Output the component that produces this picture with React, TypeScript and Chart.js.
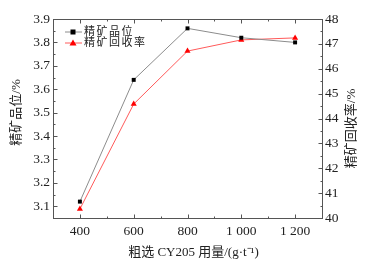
import React, { useEffect, useRef } from "react";
import { Chart, registerables } from "chart.js";

Chart.register(...registerables);

const dosages = [400, 600, 800, 1000, 1200];
const gradeValues = [3.12, 3.64, 3.86, 3.82, 3.8];
const recoveryValues = [40.36, 44.58, 46.71, 47.16, 47.24];
const xTickValues = [400, 600, 800, 1000, 1200];
const xMinorValues = [300, 500, 700, 900, 1100, 1300];
const gradeTickValues = [3.1, 3.2, 3.3, 3.4, 3.5, 3.6, 3.7, 3.8, 3.9];
const gradeMinorValues = [3.05, 3.15, 3.25, 3.35, 3.45, 3.55, 3.65, 3.75, 3.85];
const recoveryTickValues = [40, 41, 42, 43, 44, 45, 46, 47, 48];
const recoveryMinorValues = [40.5, 41.5, 42.5, 43.5, 44.5, 45.5, 46.5, 47.5];
const seriesLabels = ["精矿品位", "精矿回收率"];
const xTitle = "粗选 CY205 用量/(g·t⁻¹)";
const yTitle = "精矿品位/%";
const y1Title = "精矿回收率/%";

const FONT = '"Liberation Serif", "Times New Roman", "Noto Sans CJK SC", serif';
const AXIS = "#555";
const TEXT = "#222";

const fmtThousands = (v: number) => {
  const s = String(v);
  return s.length > 3 ? s.slice(0, s.length - 3) + " " + s.slice(-3) : s;
};

const framePlugin = {
  id: "frame",
  afterDraw(chart: any) {
    const { ctx, chartArea } = chart;
    const { left, right, top, bottom } = chartArea;
    const sx = chart.scales.x;
    const sy = chart.scales.y;
    const sy1 = chart.scales.y1;
    ctx.save();
    ctx.strokeStyle = AXIS;
    ctx.lineWidth = 1;
    ctx.strokeRect(Math.round(left) + 0.5, Math.round(top) + 0.5, Math.round(right - left), Math.round(bottom - top));
    const line = (x1: number, y1: number, x2: number, y2: number) => {
      ctx.beginPath();
      ctx.moveTo(x1, y1);
      ctx.lineTo(x2, y2);
      ctx.stroke();
    };
    const L = Math.round(left) + 0.5;
    const R = Math.round(right) + 0.5;
    const T = Math.round(top) + 0.5;
    const B = Math.round(bottom) + 0.5;
    xTickValues.forEach((v) => {
      const px = Math.round(sx.getPixelForValue(v)) + 0.5;
      line(px, B, px, B - 4);
      line(px, T, px, T + 4);
    });
    xMinorValues.forEach((v) => {
      const px = Math.round(sx.getPixelForValue(v)) + 0.5;
      line(px, B, px, B - 2);
      line(px, T, px, T + 2);
    });
    gradeTickValues.forEach((v) => {
      const py = Math.round(sy.getPixelForValue(v)) + 0.5;
      line(L, py, L + 4, py);
    });
    gradeMinorValues.forEach((v) => {
      const py = Math.round(sy.getPixelForValue(v)) + 0.5;
      line(L, py, L + 2, py);
    });
    recoveryTickValues.forEach((v) => {
      const py = Math.round(sy1.getPixelForValue(v)) + 0.5;
      line(R, py, R - 4, py);
    });
    recoveryMinorValues.forEach((v) => {
      const py = Math.round(sy1.getPixelForValue(v)) + 0.5;
      line(R, py, R - 2, py);
    });

    // axis titles
    ctx.fillStyle = TEXT;
    ctx.font = `13px ${FONT}`;
    ctx.textAlign = "center";
    ctx.textBaseline = "middle";
    ctx.fillText(xTitle, (left + right) / 2 + 6, bottom + 35);
    ctx.save();
    ctx.translate(17, (top + bottom) / 2 - 6);
    ctx.rotate(-Math.PI / 2);
    ctx.fillText(yTitle, 0, 0);
    ctx.restore();
    ctx.save();
    ctx.translate(right + 30, (top + bottom) / 2 + 10);
    ctx.rotate(-Math.PI / 2);
    ctx.fillText(y1Title, 0, 0);
    ctx.restore();

    // legend
    ctx.font = `11px ${FONT}`;
    ctx.textAlign = "left";
    chart.data.datasets.forEach((ds: any, i: number) => {
      const y = top + 13 + i * 11;
      const x0 = left + 12;
      ctx.strokeStyle = ds.borderColor;
      line(x0, y, x0 + 17, y);
      ctx.fillStyle = ds.pointBackgroundColor;
      const mx = x0 + 8;
      if (ds.pointStyle === "rect") {
        ctx.fillRect(mx - 2.5, y - 2.5, 5, 5);
      } else {
        ctx.beginPath();
        ctx.moveTo(mx, y - 3.5);
        ctx.lineTo(mx + 3.5, y + 2.5);
        ctx.lineTo(mx - 3.5, y + 2.5);
        ctx.closePath();
        ctx.fill();
      }
      ctx.fillStyle = TEXT;
      (ctx as any).letterSpacing = "1.5px";
      ctx.fillText(ds.label, x0 + 19, y + 0.5);
      (ctx as any).letterSpacing = "0px";
    });
    ctx.restore();
  },
};

export default function App() {
  const ref = useRef<HTMLCanvasElement | null>(null);
  useEffect(() => {
    document.body.style.margin = "0";
    const tickFont = { family: FONT, size: 13.5 };
    const chart = new Chart(ref.current as HTMLCanvasElement, {
      type: "line",
      data: {
        datasets: [
          {
            label: seriesLabels[0],
            data: dosages.map((x, i) => ({ x, y: gradeValues[i] })),
            borderColor: "#8c8c8c",
            borderWidth: 1,
            pointStyle: "rect",
            pointRadius: 2.8,
            pointBackgroundColor: "#000",
            pointBorderColor: "#000",
            pointBorderWidth: 0,
            yAxisID: "y",
          } as any,
          {
            label: seriesLabels[1],
            data: dosages.map((x, i) => ({ x, y: recoveryValues[i] })),
            borderColor: "#ff5a5a",
            borderWidth: 1,
            pointStyle: "triangle",
            pointRadius: 3.5,
            pointBackgroundColor: "#ff0000",
            pointBorderColor: "#ff0000",
            pointBorderWidth: 0,
            yAxisID: "y1",
          } as any,
        ],
      },
      options: {
        responsive: false,
        animation: false,
        layout: { padding: { top: 19, left: 0, right: 0, bottom: 0 } },
        plugins: { legend: { display: false }, tooltip: { enabled: false } },
        scales: {
          x: {
            type: "linear",
            min: 300,
            max: 1300,
            grid: { display: false, drawTicks: false },
            border: { display: false },
            afterBuildTicks: (s: any) => {
              s.ticks = xTickValues.map((value) => ({ value }));
            },
            afterFit: (s: any) => {
              s.height = 45;
            },
            ticks: {
              font: tickFont,
              color: TEXT,
              padding: 5,
              maxRotation: 0,
              callback: (v: any) => fmtThousands(Number(v)),
            },
          },
          y: {
            type: "linear",
            position: "left",
            min: 3.05,
            max: 3.9,
            grid: { display: false, drawTicks: false },
            border: { display: false },
            afterBuildTicks: (s: any) => {
              s.ticks = gradeTickValues.map((value) => ({ value }));
            },
            afterFit: (s: any) => {
              s.width = 53;
            },
            ticks: {
              font: tickFont,
              color: TEXT,
              padding: 3,
              callback: (v: any) => Number(v).toFixed(1),
            },
          },
          y1: {
            type: "linear",
            position: "right",
            min: 40,
            max: 48,
            grid: { display: false, drawTicks: false },
            border: { display: false },
            afterBuildTicks: (s: any) => {
              s.ticks = recoveryTickValues.map((value) => ({ value }));
            },
            afterFit: (s: any) => {
              s.width = 47;
            },
            ticks: {
              font: tickFont,
              color: TEXT,
              padding: 3,
              callback: (v: any) => String(v),
            },
          },
        },
      },
      plugins: [framePlugin],
    } as any);
    return () => chart.destroy();
  }, []);
  return (
    <div style={{ width: 369, height: 263 }}>
      <canvas ref={ref} width={369} height={263} style={{ display: "block" }} />
    </div>
  );
}
